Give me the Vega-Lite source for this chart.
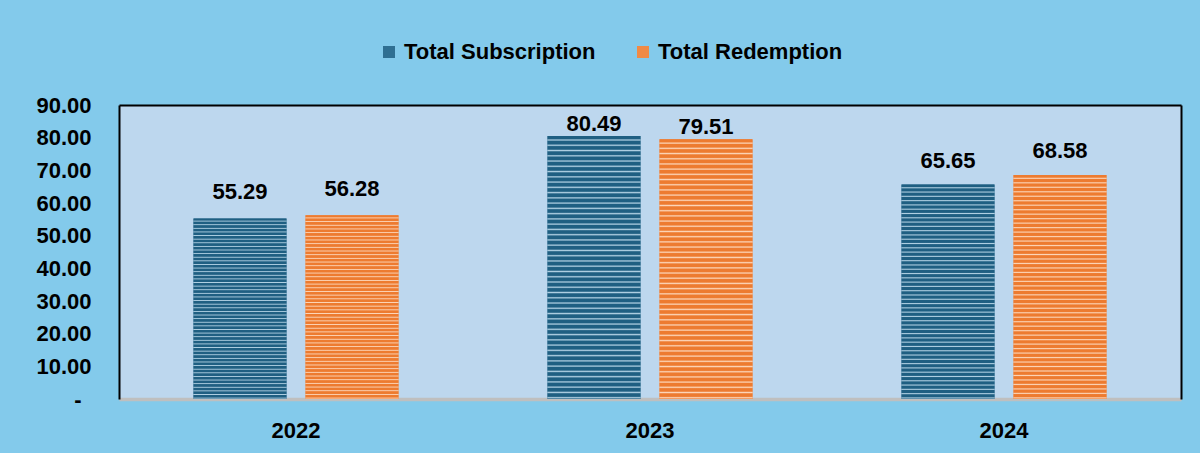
{
  "$schema": "https://vega.github.io/schema/vega-lite/v6.json",
  "width": 1062,
  "height": 294,
  "autosize": {"type": "none"},
  "padding": {"left": 119, "top": 105, "right": 19, "bottom": 54},
  "background": "#83CAEB",
  "config": {"view": {"fill": "#BDD7EE", "stroke": null}, "font": "Liberation Sans"},
  "data": {
    "values": [
      {"year": "2022", "series": "Total Subscription", "value": 55.29},
      {"year": "2022", "series": "Total Redemption", "value": 56.28},
      {"year": "2023", "series": "Total Subscription", "value": 80.49},
      {"year": "2023", "series": "Total Redemption", "value": 79.51},
      {"year": "2024", "series": "Total Subscription", "value": 65.65},
      {"year": "2024", "series": "Total Redemption", "value": 68.58}
    ]
  },
  "layer": [
    {
      "mark": {"type": "bar"},
      "encoding": {
        "x": {"field": "year", "type": "nominal", "scale": {"paddingInner": 0.421, "paddingOuter": 0.2105}, "axis": null},
        "xOffset": {"field": "series", "type": "nominal", "scale": {"domain": ["Total Subscription", "Total Redemption"], "paddingInner": 0.17, "paddingOuter": 0}},
        "y": {"field": "value", "type": "quantitative", "scale": {"domain": [0, 90], "nice": false}, "axis": null},
        "fill": {
          "field": "series", "type": "nominal",
          "scale": {"domain": ["Total Subscription", "Total Redemption"], "range": ["#2f6f92", "#f08a45"]},
          "legend": {
            "orient": "none", "legendX": 259, "legendY": -64, "direction": "horizontal", "columns": 2,
            "title": null, "symbolType": "square", "symbolSize": 144, "symbolStrokeWidth": 0,
            "labelFontSize": 22, "labelFont": "Liberation Sans", "labelFontWeight": "bold", "labelColor": "black",
            "labelOffset": 4, "columnPadding": 36, "padding": 0, "labelLimit": 400,
            "encode": {
              "symbols": {
                "update": {
                  "fill": [
                    {"test": "datum.value === 'Total Subscription'", "value": {"gradient": "linear", "x1": 0, "y1": 0, "x2": 0, "y2": 1, "stops": [
                      {"offset": 0, "color": "#1f5f82"}, {"offset": 0.125, "color": "#1f5f82"}, {"offset": 0.19, "color": "#b0d0e3"},
                      {"offset": 0.25, "color": "#1f5f82"}, {"offset": 0.375, "color": "#1f5f82"}, {"offset": 0.44, "color": "#b0d0e3"},
                      {"offset": 0.5, "color": "#1f5f82"}, {"offset": 0.625, "color": "#1f5f82"}, {"offset": 0.69, "color": "#b0d0e3"},
                      {"offset": 0.75, "color": "#1f5f82"}, {"offset": 0.875, "color": "#1f5f82"}, {"offset": 0.94, "color": "#b0d0e3"},
                      {"offset": 1, "color": "#1f5f82"}]}},
                    {"value": {"gradient": "linear", "x1": 0, "y1": 0, "x2": 0, "y2": 1, "stops": [
                      {"offset": 0, "color": "#ed7b30"}, {"offset": 0.125, "color": "#ed7b30"}, {"offset": 0.19, "color": "#fcd5b8"},
                      {"offset": 0.25, "color": "#ed7b30"}, {"offset": 0.375, "color": "#ed7b30"}, {"offset": 0.44, "color": "#fcd5b8"},
                      {"offset": 0.5, "color": "#ed7b30"}, {"offset": 0.625, "color": "#ed7b30"}, {"offset": 0.69, "color": "#fcd5b8"},
                      {"offset": 0.75, "color": "#ed7b30"}, {"offset": 0.875, "color": "#ed7b30"}, {"offset": 0.94, "color": "#fcd5b8"},
                      {"offset": 1, "color": "#ed7b30"}]}}
                  ]
                }
              }
            }
          }
        }
      }
    },
    {
      "mark": {"type": "bar"},
      "encoding": {
        "x": {"field": "year", "type": "nominal", "scale": {"paddingInner": 0.421, "paddingOuter": 0.2105},
          "axis": {"orient": "bottom", "title": null, "labelAngle": 0, "labelFontSize": 22, "labelFont": "Liberation Sans", "labelFontWeight": "bold", "labelColor": "black", "labelPadding": 21, "ticks": false, "tickSize": 0, "domainColor": "#BFBFBF", "domainWidth": 3.5}},
        "xOffset": {"field": "series", "type": "nominal", "scale": {"domain": ["Total Subscription", "Total Redemption"], "paddingInner": 0.17, "paddingOuter": 0}},
        "y": {"field": "value", "type": "quantitative", "scale": {"domain": [0, 90], "nice": false},
          "axis": {"orient": "left", "title": null, "values": [0, 10, 20, 30, 40, 50, 60, 70, 80, 90], "labelExpr": "datum.value === 0 ? '-' : format(datum.value, '.2f')", "labelFontSize": 22, "labelFont": "Liberation Sans", "labelFontWeight": "bold", "labelColor": "black", "labelPadding": {"condition": {"test": "datum.value === 0", "value": 38}, "value": 28}, "ticks": false, "tickSize": 0, "grid": false, "domainColor": "black", "domainWidth": 2}},
        "fill": {
          "condition": {
            "test": "datum.series === 'Total Subscription'",
            "value": {"gradient": "linear", "x1": 0, "y1": 0, "x2": 0, "y2": 1, "stops": [
              {"offset": 0, "color": "#1f5f82"}, {"offset": 0.01, "color": "#1f5f82"}, {"offset": 0.015, "color": "#b0d0e3"},
              {"offset": 0.02, "color": "#1f5f82"}, {"offset": 0.03, "color": "#1f5f82"}, {"offset": 0.035, "color": "#b0d0e3"},
              {"offset": 0.04, "color": "#1f5f82"}, {"offset": 0.05, "color": "#1f5f82"}, {"offset": 0.055, "color": "#b0d0e3"},
              {"offset": 0.06, "color": "#1f5f82"}, {"offset": 0.07, "color": "#1f5f82"}, {"offset": 0.075, "color": "#b0d0e3"},
              {"offset": 0.08, "color": "#1f5f82"}, {"offset": 0.09, "color": "#1f5f82"}, {"offset": 0.095, "color": "#b0d0e3"},
              {"offset": 0.1, "color": "#1f5f82"}, {"offset": 0.11, "color": "#1f5f82"}, {"offset": 0.115, "color": "#b0d0e3"},
              {"offset": 0.12, "color": "#1f5f82"}, {"offset": 0.13, "color": "#1f5f82"}, {"offset": 0.135, "color": "#b0d0e3"},
              {"offset": 0.14, "color": "#1f5f82"}, {"offset": 0.15, "color": "#1f5f82"}, {"offset": 0.155, "color": "#b0d0e3"},
              {"offset": 0.16, "color": "#1f5f82"}, {"offset": 0.17, "color": "#1f5f82"}, {"offset": 0.175, "color": "#b0d0e3"},
              {"offset": 0.18, "color": "#1f5f82"}, {"offset": 0.19, "color": "#1f5f82"}, {"offset": 0.195, "color": "#b0d0e3"},
              {"offset": 0.2, "color": "#1f5f82"}, {"offset": 0.21, "color": "#1f5f82"}, {"offset": 0.215, "color": "#b0d0e3"},
              {"offset": 0.22, "color": "#1f5f82"}, {"offset": 0.23, "color": "#1f5f82"}, {"offset": 0.235, "color": "#b0d0e3"},
              {"offset": 0.24, "color": "#1f5f82"}, {"offset": 0.25, "color": "#1f5f82"}, {"offset": 0.255, "color": "#b0d0e3"},
              {"offset": 0.26, "color": "#1f5f82"}, {"offset": 0.27, "color": "#1f5f82"}, {"offset": 0.275, "color": "#b0d0e3"},
              {"offset": 0.28, "color": "#1f5f82"}, {"offset": 0.29, "color": "#1f5f82"}, {"offset": 0.295, "color": "#b0d0e3"},
              {"offset": 0.3, "color": "#1f5f82"}, {"offset": 0.31, "color": "#1f5f82"}, {"offset": 0.315, "color": "#b0d0e3"},
              {"offset": 0.32, "color": "#1f5f82"}, {"offset": 0.33, "color": "#1f5f82"}, {"offset": 0.335, "color": "#b0d0e3"},
              {"offset": 0.34, "color": "#1f5f82"}, {"offset": 0.35, "color": "#1f5f82"}, {"offset": 0.355, "color": "#b0d0e3"},
              {"offset": 0.36, "color": "#1f5f82"}, {"offset": 0.37, "color": "#1f5f82"}, {"offset": 0.375, "color": "#b0d0e3"},
              {"offset": 0.38, "color": "#1f5f82"}, {"offset": 0.39, "color": "#1f5f82"}, {"offset": 0.395, "color": "#b0d0e3"},
              {"offset": 0.4, "color": "#1f5f82"}, {"offset": 0.41, "color": "#1f5f82"}, {"offset": 0.415, "color": "#b0d0e3"},
              {"offset": 0.42, "color": "#1f5f82"}, {"offset": 0.43, "color": "#1f5f82"}, {"offset": 0.435, "color": "#b0d0e3"},
              {"offset": 0.44, "color": "#1f5f82"}, {"offset": 0.45, "color": "#1f5f82"}, {"offset": 0.455, "color": "#b0d0e3"},
              {"offset": 0.46, "color": "#1f5f82"}, {"offset": 0.47, "color": "#1f5f82"}, {"offset": 0.475, "color": "#b0d0e3"},
              {"offset": 0.48, "color": "#1f5f82"}, {"offset": 0.49, "color": "#1f5f82"}, {"offset": 0.495, "color": "#b0d0e3"},
              {"offset": 0.5, "color": "#1f5f82"}, {"offset": 0.51, "color": "#1f5f82"}, {"offset": 0.515, "color": "#b0d0e3"},
              {"offset": 0.52, "color": "#1f5f82"}, {"offset": 0.53, "color": "#1f5f82"}, {"offset": 0.535, "color": "#b0d0e3"},
              {"offset": 0.54, "color": "#1f5f82"}, {"offset": 0.55, "color": "#1f5f82"}, {"offset": 0.555, "color": "#b0d0e3"},
              {"offset": 0.56, "color": "#1f5f82"}, {"offset": 0.57, "color": "#1f5f82"}, {"offset": 0.575, "color": "#b0d0e3"},
              {"offset": 0.58, "color": "#1f5f82"}, {"offset": 0.59, "color": "#1f5f82"}, {"offset": 0.595, "color": "#b0d0e3"},
              {"offset": 0.6, "color": "#1f5f82"}, {"offset": 0.61, "color": "#1f5f82"}, {"offset": 0.615, "color": "#b0d0e3"},
              {"offset": 0.62, "color": "#1f5f82"}, {"offset": 0.63, "color": "#1f5f82"}, {"offset": 0.635, "color": "#b0d0e3"},
              {"offset": 0.64, "color": "#1f5f82"}, {"offset": 0.65, "color": "#1f5f82"}, {"offset": 0.655, "color": "#b0d0e3"},
              {"offset": 0.66, "color": "#1f5f82"}, {"offset": 0.67, "color": "#1f5f82"}, {"offset": 0.675, "color": "#b0d0e3"},
              {"offset": 0.68, "color": "#1f5f82"}, {"offset": 0.69, "color": "#1f5f82"}, {"offset": 0.695, "color": "#b0d0e3"},
              {"offset": 0.7, "color": "#1f5f82"}, {"offset": 0.71, "color": "#1f5f82"}, {"offset": 0.715, "color": "#b0d0e3"},
              {"offset": 0.72, "color": "#1f5f82"}, {"offset": 0.73, "color": "#1f5f82"}, {"offset": 0.735, "color": "#b0d0e3"},
              {"offset": 0.74, "color": "#1f5f82"}, {"offset": 0.75, "color": "#1f5f82"}, {"offset": 0.755, "color": "#b0d0e3"},
              {"offset": 0.76, "color": "#1f5f82"}, {"offset": 0.77, "color": "#1f5f82"}, {"offset": 0.775, "color": "#b0d0e3"},
              {"offset": 0.78, "color": "#1f5f82"}, {"offset": 0.79, "color": "#1f5f82"}, {"offset": 0.795, "color": "#b0d0e3"},
              {"offset": 0.8, "color": "#1f5f82"}, {"offset": 0.81, "color": "#1f5f82"}, {"offset": 0.815, "color": "#b0d0e3"},
              {"offset": 0.82, "color": "#1f5f82"}, {"offset": 0.83, "color": "#1f5f82"}, {"offset": 0.835, "color": "#b0d0e3"},
              {"offset": 0.84, "color": "#1f5f82"}, {"offset": 0.85, "color": "#1f5f82"}, {"offset": 0.855, "color": "#b0d0e3"},
              {"offset": 0.86, "color": "#1f5f82"}, {"offset": 0.87, "color": "#1f5f82"}, {"offset": 0.875, "color": "#b0d0e3"},
              {"offset": 0.88, "color": "#1f5f82"}, {"offset": 0.89, "color": "#1f5f82"}, {"offset": 0.895, "color": "#b0d0e3"},
              {"offset": 0.9, "color": "#1f5f82"}, {"offset": 0.91, "color": "#1f5f82"}, {"offset": 0.915, "color": "#b0d0e3"},
              {"offset": 0.92, "color": "#1f5f82"}, {"offset": 0.93, "color": "#1f5f82"}, {"offset": 0.935, "color": "#b0d0e3"},
              {"offset": 0.94, "color": "#1f5f82"}, {"offset": 0.95, "color": "#1f5f82"}, {"offset": 0.955, "color": "#b0d0e3"},
              {"offset": 0.96, "color": "#1f5f82"}, {"offset": 0.97, "color": "#1f5f82"}, {"offset": 0.975, "color": "#b0d0e3"},
              {"offset": 0.98, "color": "#1f5f82"}, {"offset": 0.99, "color": "#1f5f82"}, {"offset": 0.995, "color": "#b0d0e3"},
              {"offset": 1, "color": "#1f5f82"}]}
          },
          "value": {"gradient": "linear", "x1": 0, "y1": 0, "x2": 0, "y2": 1, "stops": [
            {"offset": 0, "color": "#ed7b30"}, {"offset": 0.01, "color": "#ed7b30"}, {"offset": 0.015, "color": "#fcd5b8"},
            {"offset": 0.02, "color": "#ed7b30"}, {"offset": 0.03, "color": "#ed7b30"}, {"offset": 0.035, "color": "#fcd5b8"},
            {"offset": 0.04, "color": "#ed7b30"}, {"offset": 0.05, "color": "#ed7b30"}, {"offset": 0.055, "color": "#fcd5b8"},
            {"offset": 0.06, "color": "#ed7b30"}, {"offset": 0.07, "color": "#ed7b30"}, {"offset": 0.075, "color": "#fcd5b8"},
            {"offset": 0.08, "color": "#ed7b30"}, {"offset": 0.09, "color": "#ed7b30"}, {"offset": 0.095, "color": "#fcd5b8"},
            {"offset": 0.1, "color": "#ed7b30"}, {"offset": 0.11, "color": "#ed7b30"}, {"offset": 0.115, "color": "#fcd5b8"},
            {"offset": 0.12, "color": "#ed7b30"}, {"offset": 0.13, "color": "#ed7b30"}, {"offset": 0.135, "color": "#fcd5b8"},
            {"offset": 0.14, "color": "#ed7b30"}, {"offset": 0.15, "color": "#ed7b30"}, {"offset": 0.155, "color": "#fcd5b8"},
            {"offset": 0.16, "color": "#ed7b30"}, {"offset": 0.17, "color": "#ed7b30"}, {"offset": 0.175, "color": "#fcd5b8"},
            {"offset": 0.18, "color": "#ed7b30"}, {"offset": 0.19, "color": "#ed7b30"}, {"offset": 0.195, "color": "#fcd5b8"},
            {"offset": 0.2, "color": "#ed7b30"}, {"offset": 0.21, "color": "#ed7b30"}, {"offset": 0.215, "color": "#fcd5b8"},
            {"offset": 0.22, "color": "#ed7b30"}, {"offset": 0.23, "color": "#ed7b30"}, {"offset": 0.235, "color": "#fcd5b8"},
            {"offset": 0.24, "color": "#ed7b30"}, {"offset": 0.25, "color": "#ed7b30"}, {"offset": 0.255, "color": "#fcd5b8"},
            {"offset": 0.26, "color": "#ed7b30"}, {"offset": 0.27, "color": "#ed7b30"}, {"offset": 0.275, "color": "#fcd5b8"},
            {"offset": 0.28, "color": "#ed7b30"}, {"offset": 0.29, "color": "#ed7b30"}, {"offset": 0.295, "color": "#fcd5b8"},
            {"offset": 0.3, "color": "#ed7b30"}, {"offset": 0.31, "color": "#ed7b30"}, {"offset": 0.315, "color": "#fcd5b8"},
            {"offset": 0.32, "color": "#ed7b30"}, {"offset": 0.33, "color": "#ed7b30"}, {"offset": 0.335, "color": "#fcd5b8"},
            {"offset": 0.34, "color": "#ed7b30"}, {"offset": 0.35, "color": "#ed7b30"}, {"offset": 0.355, "color": "#fcd5b8"},
            {"offset": 0.36, "color": "#ed7b30"}, {"offset": 0.37, "color": "#ed7b30"}, {"offset": 0.375, "color": "#fcd5b8"},
            {"offset": 0.38, "color": "#ed7b30"}, {"offset": 0.39, "color": "#ed7b30"}, {"offset": 0.395, "color": "#fcd5b8"},
            {"offset": 0.4, "color": "#ed7b30"}, {"offset": 0.41, "color": "#ed7b30"}, {"offset": 0.415, "color": "#fcd5b8"},
            {"offset": 0.42, "color": "#ed7b30"}, {"offset": 0.43, "color": "#ed7b30"}, {"offset": 0.435, "color": "#fcd5b8"},
            {"offset": 0.44, "color": "#ed7b30"}, {"offset": 0.45, "color": "#ed7b30"}, {"offset": 0.455, "color": "#fcd5b8"},
            {"offset": 0.46, "color": "#ed7b30"}, {"offset": 0.47, "color": "#ed7b30"}, {"offset": 0.475, "color": "#fcd5b8"},
            {"offset": 0.48, "color": "#ed7b30"}, {"offset": 0.49, "color": "#ed7b30"}, {"offset": 0.495, "color": "#fcd5b8"},
            {"offset": 0.5, "color": "#ed7b30"}, {"offset": 0.51, "color": "#ed7b30"}, {"offset": 0.515, "color": "#fcd5b8"},
            {"offset": 0.52, "color": "#ed7b30"}, {"offset": 0.53, "color": "#ed7b30"}, {"offset": 0.535, "color": "#fcd5b8"},
            {"offset": 0.54, "color": "#ed7b30"}, {"offset": 0.55, "color": "#ed7b30"}, {"offset": 0.555, "color": "#fcd5b8"},
            {"offset": 0.56, "color": "#ed7b30"}, {"offset": 0.57, "color": "#ed7b30"}, {"offset": 0.575, "color": "#fcd5b8"},
            {"offset": 0.58, "color": "#ed7b30"}, {"offset": 0.59, "color": "#ed7b30"}, {"offset": 0.595, "color": "#fcd5b8"},
            {"offset": 0.6, "color": "#ed7b30"}, {"offset": 0.61, "color": "#ed7b30"}, {"offset": 0.615, "color": "#fcd5b8"},
            {"offset": 0.62, "color": "#ed7b30"}, {"offset": 0.63, "color": "#ed7b30"}, {"offset": 0.635, "color": "#fcd5b8"},
            {"offset": 0.64, "color": "#ed7b30"}, {"offset": 0.65, "color": "#ed7b30"}, {"offset": 0.655, "color": "#fcd5b8"},
            {"offset": 0.66, "color": "#ed7b30"}, {"offset": 0.67, "color": "#ed7b30"}, {"offset": 0.675, "color": "#fcd5b8"},
            {"offset": 0.68, "color": "#ed7b30"}, {"offset": 0.69, "color": "#ed7b30"}, {"offset": 0.695, "color": "#fcd5b8"},
            {"offset": 0.7, "color": "#ed7b30"}, {"offset": 0.71, "color": "#ed7b30"}, {"offset": 0.715, "color": "#fcd5b8"},
            {"offset": 0.72, "color": "#ed7b30"}, {"offset": 0.73, "color": "#ed7b30"}, {"offset": 0.735, "color": "#fcd5b8"},
            {"offset": 0.74, "color": "#ed7b30"}, {"offset": 0.75, "color": "#ed7b30"}, {"offset": 0.755, "color": "#fcd5b8"},
            {"offset": 0.76, "color": "#ed7b30"}, {"offset": 0.77, "color": "#ed7b30"}, {"offset": 0.775, "color": "#fcd5b8"},
            {"offset": 0.78, "color": "#ed7b30"}, {"offset": 0.79, "color": "#ed7b30"}, {"offset": 0.795, "color": "#fcd5b8"},
            {"offset": 0.8, "color": "#ed7b30"}, {"offset": 0.81, "color": "#ed7b30"}, {"offset": 0.815, "color": "#fcd5b8"},
            {"offset": 0.82, "color": "#ed7b30"}, {"offset": 0.83, "color": "#ed7b30"}, {"offset": 0.835, "color": "#fcd5b8"},
            {"offset": 0.84, "color": "#ed7b30"}, {"offset": 0.85, "color": "#ed7b30"}, {"offset": 0.855, "color": "#fcd5b8"},
            {"offset": 0.86, "color": "#ed7b30"}, {"offset": 0.87, "color": "#ed7b30"}, {"offset": 0.875, "color": "#fcd5b8"},
            {"offset": 0.88, "color": "#ed7b30"}, {"offset": 0.89, "color": "#ed7b30"}, {"offset": 0.895, "color": "#fcd5b8"},
            {"offset": 0.9, "color": "#ed7b30"}, {"offset": 0.91, "color": "#ed7b30"}, {"offset": 0.915, "color": "#fcd5b8"},
            {"offset": 0.92, "color": "#ed7b30"}, {"offset": 0.93, "color": "#ed7b30"}, {"offset": 0.935, "color": "#fcd5b8"},
            {"offset": 0.94, "color": "#ed7b30"}, {"offset": 0.95, "color": "#ed7b30"}, {"offset": 0.955, "color": "#fcd5b8"},
            {"offset": 0.96, "color": "#ed7b30"}, {"offset": 0.97, "color": "#ed7b30"}, {"offset": 0.975, "color": "#fcd5b8"},
            {"offset": 0.98, "color": "#ed7b30"}, {"offset": 0.99, "color": "#ed7b30"}, {"offset": 0.995, "color": "#fcd5b8"},
            {"offset": 1, "color": "#ed7b30"}]}
        }
      }
    },
    {
      "transform": [{"filter": "datum.year === '2022'"}],
      "mark": {"type": "text", "fontSize": 22, "fontWeight": "bold", "font": "Liberation Sans", "color": "black", "baseline": "alphabetic", "dy": -19},
      "encoding": {
        "x": {"field": "year", "type": "nominal", "scale": {"paddingInner": 0.421, "paddingOuter": 0.2105},
          "axis": {"orient": "top", "title": null, "labels": false, "ticks": false, "domainColor": "black", "domainWidth": 2}},
        "xOffset": {"field": "series", "type": "nominal", "scale": {"domain": ["Total Subscription", "Total Redemption"], "paddingInner": 0.17, "paddingOuter": 0}},
        "y": {"field": "value", "type": "quantitative", "scale": {"domain": [0, 90], "nice": false},
          "axis": {"orient": "right", "title": null, "labels": false, "ticks": false, "grid": false, "domainColor": "black", "domainWidth": 2}},
        "text": {"field": "value", "type": "quantitative", "format": ".2f"}
      }
    },
    {
      "transform": [{"filter": "datum.year === '2023'"}],
      "mark": {"type": "text", "fontSize": 22, "fontWeight": "bold", "font": "Liberation Sans", "color": "black", "baseline": "alphabetic", "dy": -5},
      "encoding": {
        "x": {"field": "year", "type": "nominal", "scale": {"paddingInner": 0.421, "paddingOuter": 0.2105}, "axis": null},
        "xOffset": {"field": "series", "type": "nominal", "scale": {"domain": ["Total Subscription", "Total Redemption"], "paddingInner": 0.17, "paddingOuter": 0}},
        "y": {"field": "value", "type": "quantitative", "scale": {"domain": [0, 90], "nice": false}, "axis": null},
        "text": {"field": "value", "type": "quantitative", "format": ".2f"}
      }
    },
    {
      "transform": [{"filter": "datum.year === '2024'"}],
      "mark": {"type": "text", "fontSize": 22, "fontWeight": "bold", "font": "Liberation Sans", "color": "black", "baseline": "alphabetic", "dy": -17},
      "encoding": {
        "x": {"field": "year", "type": "nominal", "scale": {"paddingInner": 0.421, "paddingOuter": 0.2105}, "axis": null},
        "xOffset": {"field": "series", "type": "nominal", "scale": {"domain": ["Total Subscription", "Total Redemption"], "paddingInner": 0.17, "paddingOuter": 0}},
        "y": {"field": "value", "type": "quantitative", "scale": {"domain": [0, 90], "nice": false}, "axis": null},
        "text": {"field": "value", "type": "quantitative", "format": ".2f"}
      }
    }
  ],
  "resolve": {"axis": {"x": "independent", "y": "independent"}}
}
